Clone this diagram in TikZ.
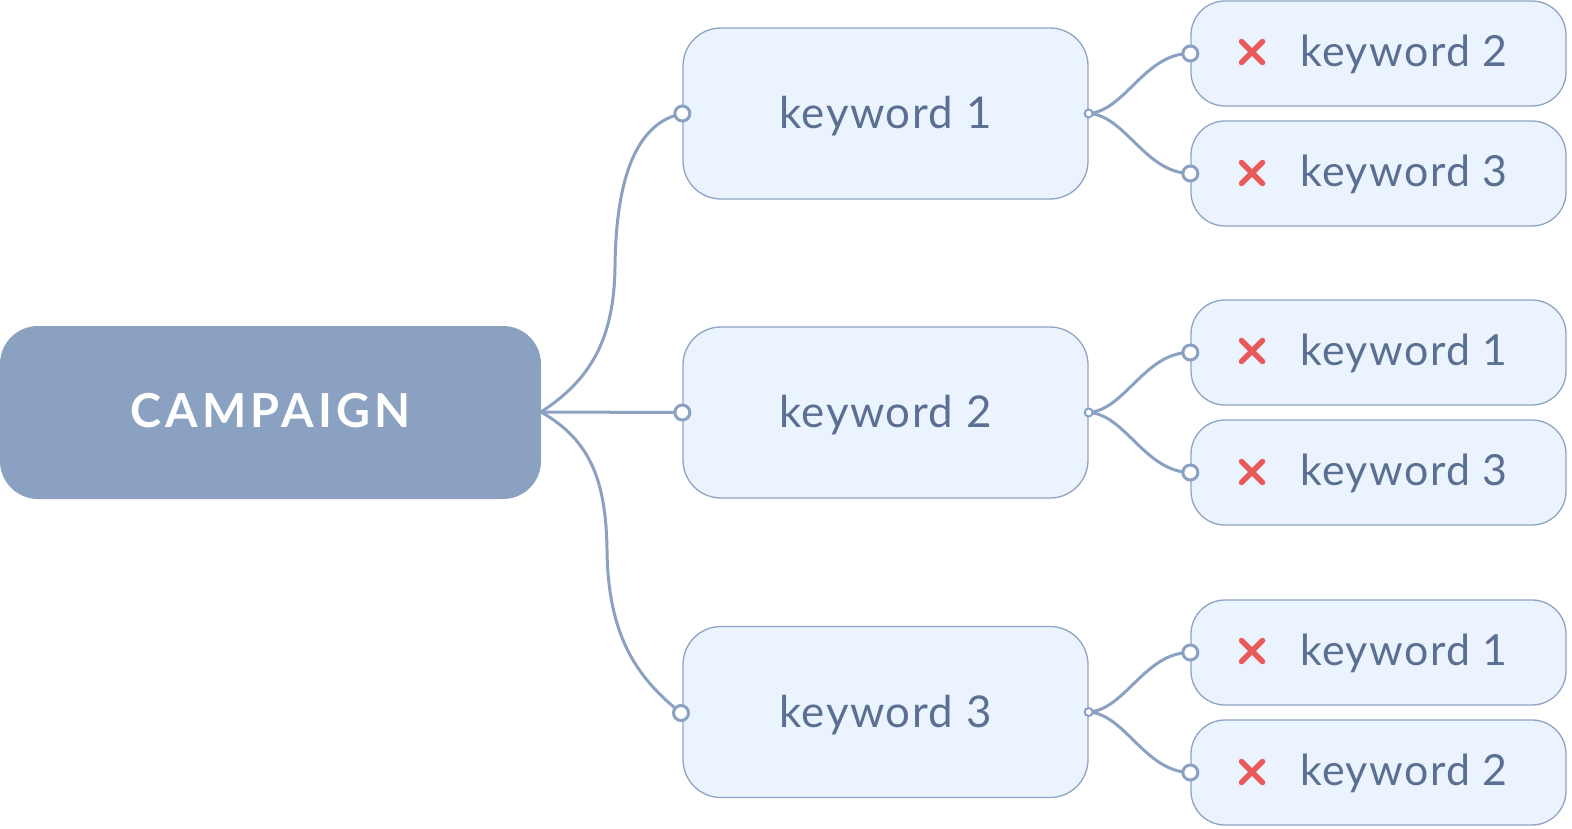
\documentclass[tikz,border=0pt]{standalone}
\usepackage{fontspec}
\setmainfont{Lato}
\begin{document}
\begin{tikzpicture}[x=1bp,y=-1bp,
  root/.style={draw=none,fill=rootfill,rounded corners=38bp,minimum width=541bp,minimum height=173bp,inner sep=0pt},
  roottext/.style={text=white,font=\bfseries\fontsize{47}{50}\selectfont\addfontfeature{LetterSpace=9},anchor=base,inner sep=0pt},
  mid/.style={draw=boxline,line width=1.3bp,fill=boxfill,rounded corners=38bp,minimum width=405bp,minimum height=171bp,inner sep=0pt},
  midtext/.style={text=textc,font=\fontsize{44}{48}\selectfont\addfontfeature{LetterSpace=3.5},anchor=base,inner sep=0pt},
  leaf/.style={draw=boxline,line width=1.3bp,fill=boxfill,rounded corners=34bp,minimum width=375bp,minimum height=105bp,inner sep=0pt},
  leaftext/.style={text=textc,font=\fontsize{43}{48}\selectfont\addfontfeature{LetterSpace=3.5},anchor=base west,inner sep=0pt},
  conn/.style={draw=linec,line width=3bp},
  bigdot/.style={circle,draw=linec,line width=3bp,fill=white,minimum size=15bp,inner sep=0pt},
  smalldot/.style={circle,draw=linec,line width=2bp,fill=white,minimum size=8bp,inner sep=0pt},
  xmark/.style={draw=xred,line width=5.5bp,line cap=round}
]
\definecolor{rootfill}{HTML}{8AA1C1}
\definecolor{boxfill}{HTML}{EBF4FE}
\definecolor{boxline}{HTML}{8EA4C4}
\definecolor{textc}{HTML}{5A6F91}
\definecolor{linec}{HTML}{8AA1C1}
\definecolor{xred}{HTML}{E85A5A}
\useasboundingbox (0,0) rectangle (1572,828);

\node[root] (camp) at (270.5,412.5) {};
\node[roottext] (campt) at (270.5,427) {CAMPAIGN};
\coordinate (c0) at (541,412);

\node[mid] (m1) at (885.5,113.5) {};
\node[mid] (m2) at (885.5,412.5) {};
\node[mid] (m3) at (885.5,712) {};
\node[midtext] (m1t) at (885.5,128) {keyword 1};
\node[midtext] (m2t) at (885.5,427) {keyword 2};
\node[midtext] (m3t) at (885.5,727) {keyword 3};
\coordinate (m3in) at (681,713);

% connectors from root
\draw[conn] (c0) .. controls (590,380) and (614,340) .. (615,267)
                 .. controls (616,170) and (640,122) .. (m1.west);
\draw[conn] (c0) -- (m2.west);
\draw[conn] (c0) .. controls (590,440) and (606,480) .. (607,550)
                 .. controls (608,640) and (640,680) .. (m3in);
\node[bigdot] (d1) at (m1.west) {};
\node[bigdot] (d2) at (m2.west) {};
\node[bigdot] (d3) at (m3in) {};

% leaves
\foreach \m/\y/\a/\b [count=\i] in {m1/113/2/3, m2/412/1/3, m3/712/1/2}{
  \node[leaf] (l\i a) at (1378.5,\y-59.5) {};
  \node[leaf] (l\i b) at (1378.5,\y+60.5) {};
  \draw[conn] (\m.east) .. controls (1125,\y-2) and (1145,\y-60) .. (l\i a.west);
  \draw[conn] (\m.east) .. controls (1125,\y+2) and (1145,\y+60) .. (l\i b.west);
  \node[bigdot] (l\i ad) at (l\i a.west) {};
  \node[bigdot] (l\i bd) at (l\i b.west) {};
  \node[smalldot] (s\i) at (\m.east) {};
  \draw[xmark] (1241.5,\y-71.5) -- (1262.5,\y-50.5) (1241.5,\y-50.5) -- (1262.5,\y-71.5);
  \draw[xmark] (1241.5,\y+49.5) -- (1262.5,\y+70.5) (1241.5,\y+70.5) -- (1262.5,\y+49.5);
  \node[leaftext] (l\i at) at (1300,\y-47) {keyword \a};
  \node[leaftext] (l\i bt) at (1300,\y+73) {keyword \b};
}
\end{tikzpicture}
\end{document}
